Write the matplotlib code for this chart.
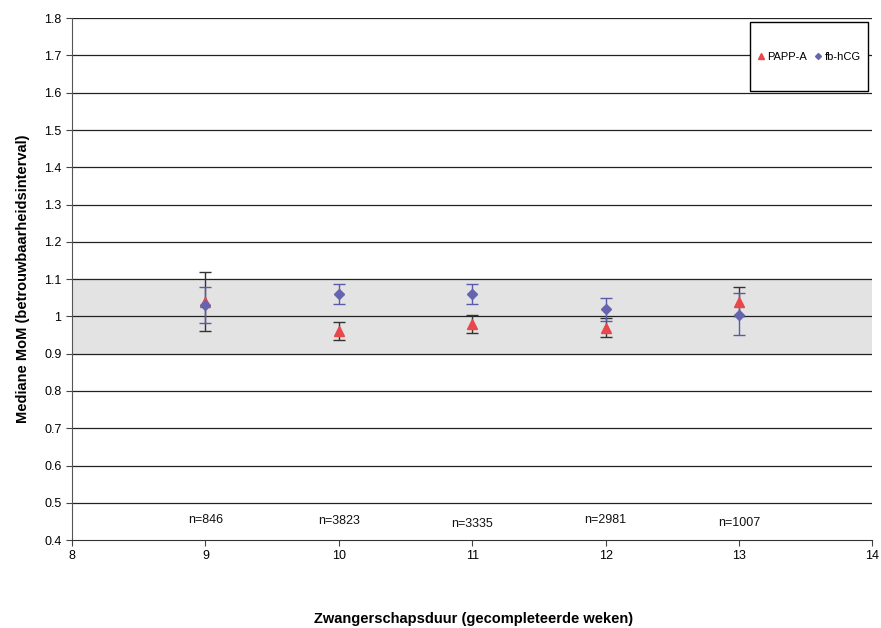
import matplotlib
matplotlib.use("Agg")
import matplotlib.pyplot as plt
from matplotlib.patches import Rectangle
import numpy as np

plt.rcParams['font.family'] = ['Liberation Sans', 'DejaVu Sans']

weeks = [9, 10, 11, 12, 13]
papp_a = [1.04, 0.96, 0.98, 0.97, 1.04]
papp_lo = [0.96, 0.936, 0.956, 0.944, 1.00]
papp_hi = [1.12, 0.984, 1.003, 0.997, 1.079]
hcg = [1.03, 1.06, 1.06, 1.02, 1.005]
hcg_lo = [0.983, 1.033, 1.033, 0.988, 0.95]
hcg_hi = [1.08, 1.088, 1.088, 1.05, 1.062]
n_labels = ['n=846', 'n=3823', 'n=3335', 'n=2981', 'n=1007']
n_y = [0.454, 0.452, 0.444, 0.455, 0.447]

fig = plt.figure(figsize=(8.81, 6.28), dpi=100)
ax = fig.add_axes([0.0817, 0.140, 0.9085, 0.831])

ax.axhspan(0.9, 1.1, color='#e3e3e3', zorder=0)
for yv in np.arange(0.5, 1.85, 0.1):
    ax.axhline(yv, color='#222222', linewidth=0.9, zorder=1)

papp_err = [np.array(papp_a) - np.array(papp_lo), np.array(papp_hi) - np.array(papp_a)]
hcg_err = [np.array(hcg) - np.array(hcg_lo), np.array(hcg_hi) - np.array(hcg)]

ax.errorbar(weeks, papp_a, yerr=papp_err, fmt='none', ecolor='#333333',
            elinewidth=1, capsize=4, capthick=1, zorder=2)
ax.errorbar(weeks, hcg, yerr=hcg_err, fmt='none', ecolor='#5a5aa8',
            elinewidth=1, capsize=4, capthick=1, zorder=2)
ax.plot(weeks, papp_a, '^', color='#e8474b', markersize=6.5, linestyle='none',
        label='PAPP-A', zorder=3)
ax.plot(weeks, hcg, 'D', color='#6464b0', markersize=5, linestyle='none',
        label='fb-hCG', zorder=4)

for w, t, yy in zip(weeks, n_labels, n_y):
    ax.text(w, yy, t, ha='center', va='center', fontsize=9, color='#111111')

ax.set_xlim(8, 14)
ax.set_ylim(0.4, 1.8)
ax.set_xticks([8, 9, 10, 11, 12, 13, 14])
yt = np.round(np.arange(0.4, 1.85, 0.1), 1)
ax.set_yticks(yt)
ax.set_yticklabels(['1' if v == 1.0 else '%.1f' % v for v in yt])
ax.tick_params(axis='both', labelsize=9, direction='out', length=4, color='#444444')
ax.spines['top'].set_visible(False)
ax.spines['right'].set_visible(False)
ax.spines['left'].set_color('#555555')
ax.spines['bottom'].set_color('#333333')

ax.set_ylabel('Mediane MoM (betrouwbaarheidsinterval)', fontsize=10.5, fontweight='bold', labelpad=10)
fig.text(0.537, 0.003, 'Zwangerschapsduur (gecompleteerde weken)', ha='center', va='bottom',
         fontsize=10.5, fontweight='bold')

# legend box
ax.add_patch(Rectangle((0.8475, 0.860), 0.1475, 0.132, transform=ax.transAxes,
                       facecolor='white', edgecolor='black', linewidth=1.0, zorder=5))
leg = ax.legend(loc='center', bbox_to_anchor=(0.9212, 0.926), ncol=2, fontsize=8,
                frameon=False, handlelength=0.5, handletextpad=0.3, columnspacing=0.8,
                borderpad=0, borderaxespad=0, markerscale=0.6)
leg.set_zorder(6)

fig.savefig('out.png', dpi=100)
